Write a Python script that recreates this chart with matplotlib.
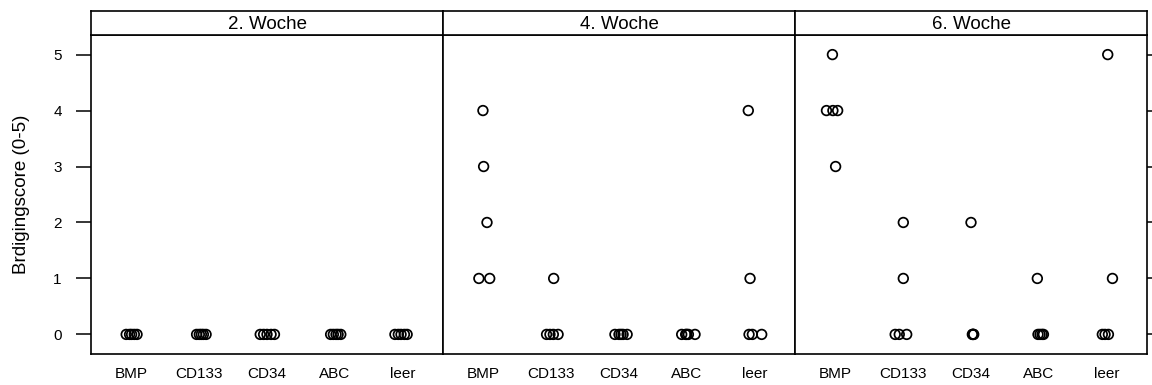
import matplotlib

matplotlib.use("Agg")
import matplotlib.pyplot as plt
import numpy as np

plt.rcParams["font.family"] = ["Liberation Sans", "DejaVu Sans"]

groups = ["BMP", "CD133", "CD34", "ABC", "leer"]
weeks = ["2. Woche", "4. Woche", "6. Woche"]

# Bridging scores per week and group (5 animals each)
scores = {
    "2. Woche": {
        "BMP": [0, 0, 0, 0, 0],
        "CD133": [0, 0, 0, 0, 0],
        "CD34": [0, 0, 0, 0, 0],
        "ABC": [0, 0, 0, 0, 0],
        "leer": [0, 0, 0, 0, 0],
    },
    "4. Woche": {
        "BMP": [4, 3, 2, 1, 1],
        "CD133": [1, 0, 0, 0, 0],
        "CD34": [0, 0, 0, 0, 0],
        "ABC": [0, 0, 0, 0, 0],
        "leer": [4, 1, 0, 0, 0],
    },
    "6. Woche": {
        "BMP": [5, 4, 4, 4, 3],
        "CD133": [2, 1, 0, 0, 0],
        "CD34": [2, 0, 0, 0, 0],
        "ABC": [1, 0, 0, 0, 0],
        "leer": [5, 1, 0, 0, 0],
    },
}

# horizontal jitter used for the strip plot
jitter = {
    "2. Woche": {
        "BMP": [-0.08, -0.03, 0.0, 0.04, 0.08],
        "CD133": [-0.04, 0.0, 0.03, 0.06, 0.1],
        "CD34": [-0.1, -0.05, 0.0, 0.06, 0.11],
        "ABC": [-0.06, -0.02, 0.02, 0.05, 0.09],
        "leer": [-0.11, -0.06, -0.02, 0.03, 0.07],
    },
    "4. Woche": {
        "BMP": [-0.01, 0.0, 0.05, -0.07, 0.09],
        "CD133": [0.035, -0.07, -0.02, 0.03, 0.1],
        "CD34": [-0.06, 0.0, 0.03, 0.06, 0.12],
        "ABC": [-0.074, -0.015, 0.0, 0.025, 0.123],
        "leer": [-0.09, -0.064, -0.079, -0.03, 0.108],
    },
    "6. Woche": {
        "BMP": [-0.047, -0.135, -0.04, 0.03, 0.0],
        "CD133": [0.0, 0.0, -0.12, -0.06, 0.05],
        "CD34": [0.0, 0.02, 0.03, 0.04, 0.03],
        "ABC": [-0.02, -0.01, 0.02, 0.05, 0.07],
        "leer": [0.02, 0.09, -0.06, -0.02, 0.03],
    },
}

W, H = 1152, 385
fig = plt.figure(figsize=(W / 100, H / 100), dpi=100)

left_px, right_px = 91, 1147
panel_top_px, panel_bot_px, strip_top_px = 35, 354, 11
panel_w = (right_px - left_px) / 3

for i, week in enumerate(weeks):
    x0 = (left_px + i * panel_w) / W
    ax = fig.add_axes([x0, 1 - panel_bot_px / H, panel_w / W,
                       (panel_bot_px - panel_top_px) / H])
    strip = fig.add_axes([x0, 1 - panel_top_px / H, panel_w / W,
                          (panel_top_px - strip_top_px) / H])

    for j, g in enumerate(groups):
        xs = j + 1 + np.array(jitter[week][g])
        ax.scatter(xs, scores[week][g], s=48, facecolors="none",
                   edgecolors="black", linewidths=1.25, zorder=3)

    ax.set_xlim(0.4, 5.6)
    ax.set_ylim(-0.35, 5.35)
    ax.set_xticks(range(1, 6))
    ax.set_xticklabels(groups, fontsize=11)
    ax.tick_params(axis="x", length=0, pad=9.5)
    ax.set_yticks(range(6))
    if i == 0:
        ax.tick_params(axis="y", direction="out", length=11, width=1.1,
                       labelsize=11, pad=10)
        ax.set_ylabel("Brdigingscore (0-5)", fontsize=13.5, labelpad=17)
    elif i == 2:
        ax.yaxis.tick_right()
        ax.tick_params(axis="y", direction="out", length=6, width=1.1,
                       labelright=False)
    else:
        ax.tick_params(axis="y", length=0, labelleft=False)
    for sp in ax.spines.values():
        sp.set_linewidth(1.2)

    strip.set_xticks([])
    strip.set_yticks([])
    for sp in strip.spines.values():
        sp.set_linewidth(1.2)
    strip.text(0.5, 0.45, week, ha="center", va="center", fontsize=13.5,
               transform=strip.transAxes)

fig.savefig("out.png", dpi=100)
